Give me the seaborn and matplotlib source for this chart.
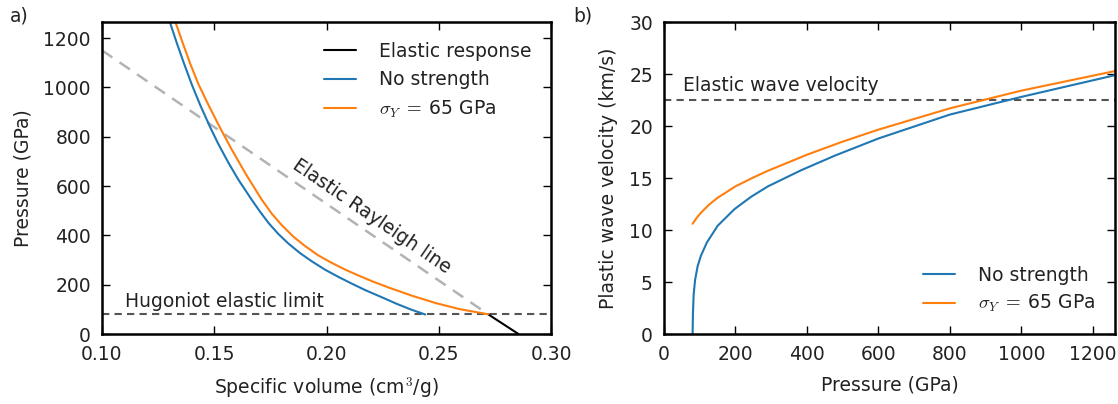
import matplotlib
matplotlib.use("Agg")
import matplotlib.pyplot as plt
import seaborn as sns
import pandas as pd

# ---------------- data ----------------
# Panel a) : Hugoniot curves, specific volume (cm^3/g) vs pressure (GPa)
ns_volume = [0.1302, 0.1335, 0.1364, 0.1401, 0.1438, 0.1482, 0.1519, 0.1564,
             0.1608, 0.1667, 0.1704, 0.1741, 0.1785, 0.1830, 0.1882, 0.1934,
             0.1993, 0.2052, 0.2111, 0.2170, 0.2259, 0.2311, 0.2374, 0.2440]
ns_pressure = [1265, 1175, 1100, 1009, 927, 838, 769, 693,
               625, 544, 496, 451, 406, 367, 328, 295,
               261, 232, 205, 179, 144, 123, 100, 79]

ys_volume = [0.1327, 0.1358, 0.1393, 0.1429, 0.1475, 0.1527, 0.1579, 0.1643,
             0.1712, 0.1757, 0.1801, 0.1852, 0.1904, 0.1963, 0.2022, 0.2081,
             0.2140, 0.2211, 0.2281, 0.2385, 0.2488, 0.2592, 0.2720]
ys_pressure = [1265, 1184, 1096, 1014, 927, 834, 746, 645,
               544, 487, 441, 395, 357, 319, 289, 262,
               238, 211, 187, 154, 125, 101, 80]

elastic_volume = [0.2720, 0.2855]
elastic_pressure = [80, 0]

rayleigh_volume = [0.100, 0.2720]
rayleigh_pressure = [1150, 80]

hel_pressure = 80

# Panel b) : plastic wave velocity (km/s) vs pressure (GPa)
ns_p = [80, 81, 83, 87, 94, 103, 120, 150, 197, 244, 291, 384, 478, 600, 800, 1000, 1264]
ns_v = [0.0, 2.0, 3.8, 5.2, 6.5, 7.5, 8.8, 10.4, 12.0, 13.2, 14.2, 15.75, 17.15, 18.8, 21.1, 22.8, 24.9]

ys_p = [80, 90, 103, 125, 150, 200, 250, 291, 401, 500, 600, 800, 1000, 1264]
ys_v = [10.6, 11.1, 11.65, 12.4, 13.1, 14.2, 15.05, 15.7, 17.25, 18.5, 19.65, 21.7, 23.4, 25.3]

elastic_wave_velocity = 22.5

labels = ["Elastic response", "No strength", r"$\sigma_Y\;=\;$65 GPa"]

# ---------------- style ----------------
FS = 13.5
sns.set_theme(style="ticks")
plt.rcParams.update({
    "font.size": FS,
    "axes.labelsize": FS,
    "xtick.labelsize": FS,
    "ytick.labelsize": FS,
    "legend.fontsize": FS,
    "xtick.direction": "in",
    "ytick.direction": "in",
    "xtick.top": True,
    "ytick.right": True,
    "xtick.major.size": 6,
    "ytick.major.size": 6,
    "xtick.major.width": 1.0,
    "ytick.major.width": 1.0,
    "xtick.major.pad": 8,
    "ytick.major.pad": 8,
    "axes.linewidth": 1.8,
    "axes.edgecolor": "black",
    "text.color": "#222222",
    "axes.labelcolor": "#222222",
    "xtick.color": "black",
    "ytick.color": "black",
    "xtick.labelcolor": "#222222",
    "ytick.labelcolor": "#222222",
    "mathtext.fontset": "cm",
    "lines.solid_joinstyle": "round",
})
plt.rcParams["font.family"] = ["DejaVu Sans"]

BLUE = "#1f77b4"
ORANGE = "#ff7f0e"

W, H = 1118, 404
fig = plt.figure(figsize=(W / 100, H / 100), dpi=100)
ax1 = fig.add_axes([102 / W, 1 - 334 / H, (551 - 102) / W, (334 - 22) / H])
ax2 = fig.add_axes([664 / W, 1 - 334 / H, (1115 - 664) / W, (334 - 22) / H])

# ---------------- panel a ----------------
df_el = pd.DataFrame({"V": elastic_volume, "P": elastic_pressure})
df_ns = pd.DataFrame({"V": ns_volume, "P": ns_pressure})
df_ys = pd.DataFrame({"V": ys_volume, "P": ys_pressure})
df_ray = pd.DataFrame({"V": rayleigh_volume, "P": rayleigh_pressure})

ax1.axhline(hel_pressure, color="#555555", lw=1.5, ls=(0, (3.5, 2.5)), zorder=1)
sns.lineplot(data=df_ray, x="V", y="P", ax=ax1, color="#b3b3b3", lw=1.8,
             sort=False, estimator=None, zorder=1)
ax1.lines[-1].set_dashes((5, 3.5))
sns.lineplot(data=df_el, x="V", y="P", ax=ax1, color="black", lw=1.5,
             sort=False, estimator=None, label=labels[0])
sns.lineplot(data=df_ns, x="V", y="P", ax=ax1, color=BLUE, lw=1.5,
             sort=False, estimator=None, label=labels[1])
sns.lineplot(data=df_ys, x="V", y="P", ax=ax1, color=ORANGE, lw=1.5,
             sort=False, estimator=None, label=labels[2])

ax1.set_xlim(0.10, 0.30)
ax1.set_ylim(0, 1265)
ax1.set_xticks([0.10, 0.15, 0.20, 0.25, 0.30])
ax1.set_xticklabels(["0.10", "0.15", "0.20", "0.25", "0.30"])
ax1.set_yticks([0, 200, 400, 600, 800, 1000, 1200])
ax1.set_xlabel(r"Specific volume (cm$^3$/g)", labelpad=8)
ax1.set_ylabel("Pressure (GPa)", labelpad=8)
ax1.text(0.1103, 95, "Hugoniot elastic limit", ha="left", va="bottom")
ax1.text(0.2200, 478, "Elastic Rayleigh line", rotation=-34.5,
         rotation_mode="anchor", ha="center", va="center")
ax1.legend(loc="upper right", frameon=False, handlelength=1.7,
           handletextpad=1.23, borderaxespad=0.65, labelspacing=0.5)

# ---------------- panel b ----------------
df_ns2 = pd.DataFrame({"P": ns_p, "v": ns_v})
df_ys2 = pd.DataFrame({"P": ys_p, "v": ys_v})
ax2.axhline(elastic_wave_velocity, color="#555555", lw=1.5, ls=(0, (3.5, 2.5)), zorder=1)
sns.lineplot(data=df_ns2, x="P", y="v", ax=ax2, color=BLUE, lw=1.5,
             sort=False, estimator=None, label=labels[1])
sns.lineplot(data=df_ys2, x="P", y="v", ax=ax2, color=ORANGE, lw=1.5,
             sort=False, estimator=None, label=labels[2])
ax2.set_xlim(0, 1262)
ax2.set_ylim(0, 30)
ax2.set_xticks([0, 200, 400, 600, 800, 1000, 1200])
ax2.set_yticks([0, 5, 10, 15, 20, 25, 30])
ax2.set_xlabel("Pressure (GPa)", labelpad=8)
ax2.set_ylabel("Plastic wave velocity (km/s)", labelpad=8)
ax2.text(52, 23.0, "Elastic wave velocity", ha="left", va="bottom")
ax2.legend(loc="lower right", frameon=False, handlelength=1.7,
           handletextpad=1.23, borderaxespad=0.65, labelspacing=0.45)

fig.text(10 / W, 1 - 6 / H, "a)", ha="left", va="top", fontsize=FS)
fig.text(573 / W, 1 - 6 / H, "b)", ha="left", va="top", fontsize=FS)

fig.savefig("out.png", dpi=100)
